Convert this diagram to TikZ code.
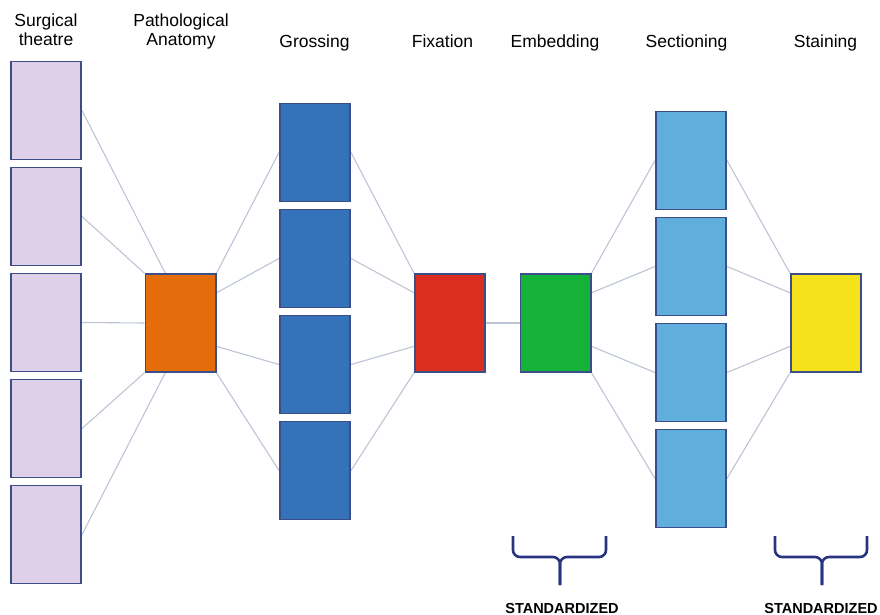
\documentclass[tikz,border=0pt]{standalone}
\usepackage{fontspec}
\setmainfont{Liberation Sans}
\usetikzlibrary{positioning,calc,backgrounds}

\definecolor{boxline}{RGB}{60,78,135}
\definecolor{lavender}{RGB}{221,208,232}
\definecolor{pathorange}{RGB}{228,108,10}
\definecolor{grossblue}{RGB}{52,114,186}
\definecolor{fixred}{RGB}{220,46,30}
\definecolor{embedgreen}{RGB}{20,178,56}
\definecolor{sectblue}{RGB}{96,174,220}
\definecolor{stainyellow}{RGB}{246,226,26}
\definecolor{linkgrey}{RGB}{188,196,214}
\definecolor{bracenavy}{RGB}{40,52,128}

\begin{document}
\begin{tikzpicture}[
            x=1pt, y=-1pt,
            stage/.style={
                rectangle,
                draw=boxline,
                line width=1.6pt,
                minimum width=70.4pt,
                minimum height=98pt,
                inner sep=0pt,
                node distance=6.4pt
            },
            surgical/.style={stage, fill=lavender},
            pathology/.style={stage, fill=pathorange},
            grossing/.style={stage, fill=grossblue},
            fixation/.style={stage, fill=fixred},
            embedding/.style={stage, fill=embedgreen},
            sectioning/.style={stage, fill=sectblue},
            staining/.style={stage, fill=stainyellow},
            link/.style={linkgrey, line width=1.1pt},
            heading/.style={
                font=\fontsize{17.5}{19.5}\selectfont,
                align=center,
                inner sep=0pt,
                text depth=0pt
            },
            brace/.style={bracenavy, line width=2.6pt, rounded corners=7pt},
            stdlabel/.style={font=\fontsize{14.5}{16}\selectfont\bfseries, inner sep=0pt},
        ]

            \useasboundingbox (0,0) rectangle (880,615);

            % surgical theatre column
            \node[surgical] (s1) at (46,110.5) {};
            \node[surgical] (s2) [below= of s1] {};
            \node[surgical] (s3) [below= of s2] {};
            \node[surgical] (s4) [below= of s3] {};
            \node[surgical] (s5) [below= of s4] {};

            % pathological anatomy
            \node[pathology] (pa) at (180.5,323) {};

            % grossing column
            \node[grossing] (g1) at (315,152.5) {};
            \node[grossing] (g2) [below= of g1] {};
            \node[grossing] (g3) [below= of g2] {};
            \node[grossing] (g4) [below= of g3] {};

            % fixation and embedding
            \node[fixation] (fx) at (450,323) {};
            \node[embedding] (em) at (555.5,323) {};

            % sectioning column
            \node[sectioning] (c1) at (691,160.5) {};
            \node[sectioning] (c2) [below= of c1] {};
            \node[sectioning] (c3) [below= of c2] {};
            \node[sectioning] (c4) [below= of c3] {};

            % staining
            \node[staining] (st) at (826,323) {};

            % headings
            \node[heading, anchor=south] (hsurg) at (46,46) {Surgical\\theatre};
            \node[heading, anchor=south] (hpath) at (181,46) {Pathological\\Anatomy};
            \node[heading, anchor=base] (hgross) at (314.5,48) {Grossing};
            \node[heading, anchor=base] (hfix) at (442.5,48) {Fixation};
            \node[heading, anchor=base] (hembed) at (555,48) {Embedding};
            \node[heading, anchor=base] (hsect) at (686.5,48) {Sectioning};
            \node[heading, anchor=base] (hstain) at (825.5,48) {Staining};

            % connections
            \begin{scope}[on background layer]
                \draw[link] (s1.east) -- (pa.107);
                \draw[link] (s2.east) -- (pa.north west);
                \draw[link] (s3.east) -- (pa.west);
                \draw[link] (s4.east) -- (pa.south west);
                \draw[link] (s5.east) -- (pa.253);

                \draw[link] (pa.north east) -- (g1.west);
                \draw[link] (pa.40) -- (g2.west);
                \draw[link] (pa.-33) -- (g3.west);
                \draw[link] (pa.south east) -- (g4.west);

                \draw[link] (g1.east) -- (fx.north west);
                \draw[link] (g2.east) -- (fx.140);
                \draw[link] (g3.east) -- (fx.213);
                \draw[link] (g4.east) -- (fx.south west);

                \draw[link] (fx.east) -- (em.west);

                \draw[link] (em.north east) -- (c1.west);
                \draw[link] (em.40) -- (c2.west);
                \draw[link] (em.-33) -- (c3.west);
                \draw[link] (em.south east) -- (c4.west);

                \draw[link] (c1.east) -- (st.north west);
                \draw[link] (c2.east) -- (st.140);
                \draw[link] (c3.east) -- (st.213);
                \draw[link] (c4.east) -- (st.south west);
            \end{scope}

            % standardized steps
            \draw[brace] (513,536) |- (560,557) -- (560,585);
            \draw[brace] (606,536) |- (560,557) -- (560,585);
            \node[stdlabel, anchor=base] (stdem) at (562,613) {STANDARDIZED};

            \draw[brace] (775,536) |- (822,557) -- (822,585);
            \draw[brace] (867,536) |- (822,557) -- (822,585);
            \node[stdlabel, anchor=base] (stdst) at (821,613) {STANDARDIZED};
        \end{tikzpicture}
\end{document}
